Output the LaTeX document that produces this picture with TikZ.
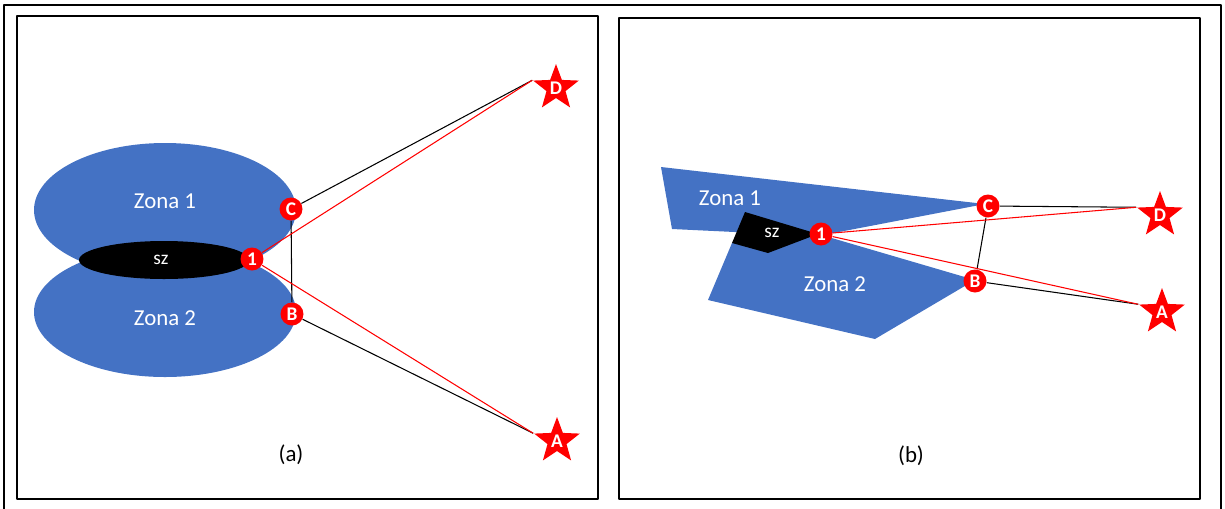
\documentclass[tikz,border=0pt]{standalone}
\usepackage{fontspec}
\setmainfont{Carlito}
\usepackage{tikz}
\usetikzlibrary{positioning}
\usetikzlibrary{shapes.geometric}

\definecolor{zoneBlue}{HTML}{4472C4}
\definecolor{ptRed}{HTML}{FF0000}

\begin{document}
\begin{tikzpicture}[
    x=0.02cm, y=-0.02cm, % one unit is one pixel
    line join=round,
    % Styling for the panels and shapes
    panelBox/.style={draw=black, line width=1.2pt},
    zoneShape/.style={fill=zoneBlue, draw=none},
    zoneLabel/.style={text=white, font=\fontsize{13}{15}\selectfont},
    szLabel/.style={text=white, font=\fontsize{11}{13}\selectfont},
    % Styling for the points
    ptNode/.style={
        circle,
        fill=ptRed,
        text=white,
        inner sep=0pt,
        minimum size=0.46cm,
        font=\fontsize{11}{12}\selectfont\bfseries
    },
    starNode/.style={
        star,
        star points=5,
        star point ratio=2.4,
        fill=ptRed,
        text=white,
        inner sep=0pt,
        minimum size=0.96cm,
        font=\fontsize{11}{12}\selectfont\bfseries
    },
    blackLink/.style={draw=black, line width=0.6pt},
    redLink/.style={draw=ptRed, line width=0.6pt}
]

    \useasboundingbox (0,0) rectangle (1225,508);

    % Frames
    \draw[line width=0.8pt] (4,512) -- (4,5) -- (1221,5) -- (1221,512);
    \draw[panelBox] (17,16) rectangle (598,499);
    \draw[panelBox] (619,18) rectangle (1200,499);

    % ---------------- Panel (a) ----------------
    \fill[zoneShape] (165,210) ellipse [x radius=131, y radius=67];
    \fill[zoneShape] (165,312) ellipse [x radius=131, y radius=65];
    \fill[black] (164,260) ellipse [x radius=85, y radius=19];

    \node[zoneLabel] (zA1) at (165,201) {Zona 1};
    \node[zoneLabel] (zA2) at (165,318) {Zona 2};
    \node[szLabel] (szA) at (161,260) {sz};

    \node[ptNode] (a1) at (252,259) {1};
    \node[ptNode] (aC) at (291,209) {C};
    \node[ptNode] (aB) at (292,314) {B};
    \node[starNode] (aD) at (556,88) {D};
    \node[starNode] (aA) at (557,441) {A};

    \draw[blackLink] (aC) -- (aD.162);
    \draw[blackLink] (aC) -- (aB);
    \draw[blackLink] (aB) -- (aA.162);
    \draw[redLink] (a1) -- (aD.162);
    \draw[redLink] (a1) -- (aA.162);

    \node[font=\fontsize{13}{15}\selectfont] (capA) at (291,455) {(a)};

    % ---------------- Panel (b) ----------------
    \fill[zoneShape] (661,167) -- (985,204) -- (818,236) -- (672,229) -- cycle;
    \fill[zoneShape] (708,300) -- (732,243) -- (818,234) -- (975,280) -- (875,339) -- cycle;
    \fill[black] (745,212) -- (818,234) -- (768,253) -- (732,243) -- cycle;

    \node[zoneLabel] (zB1) at (730,198) {Zona 1};
    \node[zoneLabel] (zB2) at (835,284) {Zona 2};
    \node[szLabel] (szB) at (772,233) {sz};

    \node[ptNode] (b1) at (821,234) {1};
    \node[ptNode] (bC) at (988,206) {C};
    \node[ptNode] (bB) at (975,281) {B};
    \node[starNode] (bD) at (1160,215) {D};
    \node[starNode] (bA) at (1162,312) {A};

    \draw[blackLink] (bC) -- (bD.162);
    \draw[blackLink] (bC) -- (bB);
    \draw[blackLink] (bB) -- (bA.162);
    \draw[redLink] (b1) -- (bD.162);
    \draw[redLink] (b1) -- (bA.162);

    \node[font=\fontsize{13}{15}\selectfont] (capB) at (911,456) {(b)};

\end{tikzpicture}
\end{document}
